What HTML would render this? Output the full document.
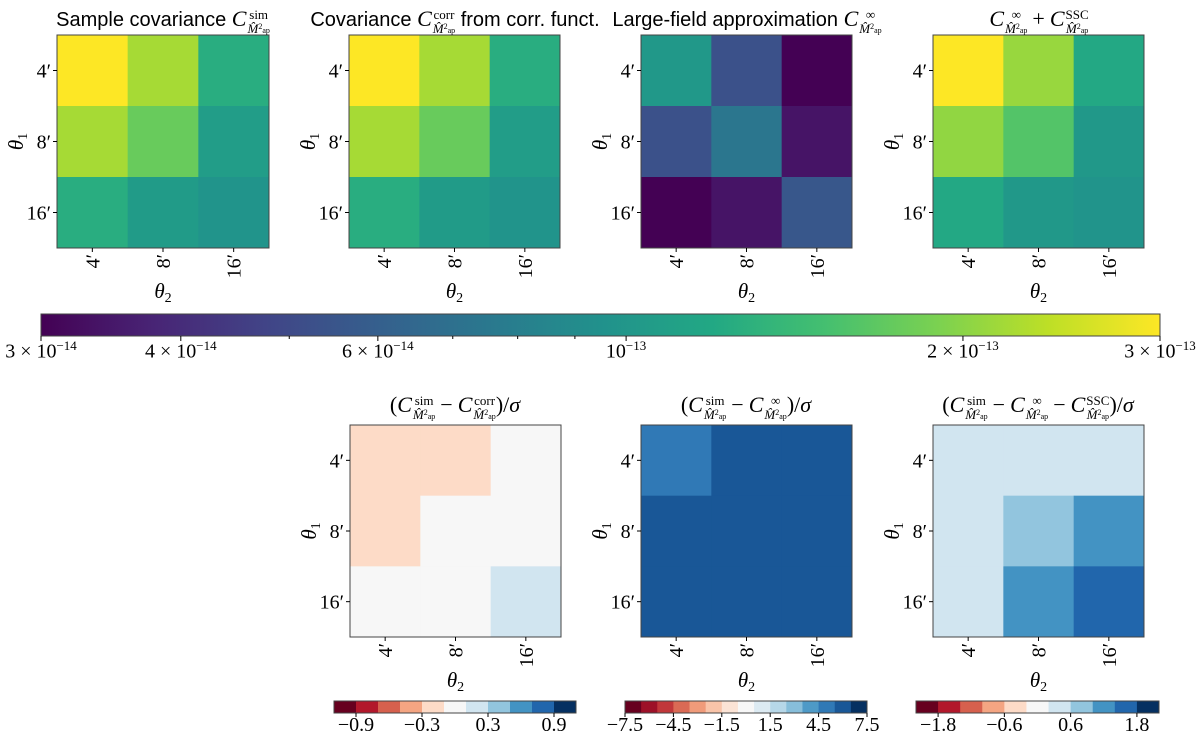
<!DOCTYPE html>
<html><head><meta charset="utf-8">
<style>
body{margin:0;background:#fff;width:1200px;height:734px;overflow:hidden;position:relative;font-family:"Liberation Serif",serif;}
svg{position:absolute;left:0;top:0}
.title{position:absolute;text-align:center;font-size:20px;white-space:nowrap;color:#000;line-height:26px}
.sans{font-family:"Liberation Sans",sans-serif;}
.m{font-family:"Liberation Serif",serif;font-style:italic;font-size:22px}
.ss{display:inline-block;vertical-align:-7px;font-family:"Liberation Serif",serif;font-size:13px;line-height:12px;text-align:center;margin-left:1px}
.ss>span{display:block}
.ss .p{font-size:8px;vertical-align:4px}
.ss .a{font-size:8px}
.cbl{position:absolute;font-size:20px;white-space:nowrap;transform:translateX(-50%);color:#000}
.cbl sup{font-size:13px}
</style></head>
<body>
<svg id="chart" width="1200" height="734"></svg>

<div class="title" style="left:37px;top:6px;width:252px"><span class="sans">Sample covariance </span><span class="m">C</span><span class="ss"><span>sim</span><span><i>M̂</i><span class="p">2</span><span class="a">ap</span></span></span></div>
<div class="title" style="left:290px;top:6px;width:330px"><span class="sans">Covariance </span><span class="m">C</span><span class="ss"><span>corr</span><span><i>M̂</i><span class="p">2</span><span class="a">ap</span></span></span><span class="sans"> from corr. funct.</span></div>
<div class="title" style="left:590px;top:6px;width:314px"><span class="sans">Large-field approximation </span><span class="m">C</span><span class="ss"><span>∞</span><span><i>M̂</i><span class="p">2</span><span class="a">ap</span></span></span></div>
<div class="title" style="left:933px;top:6px;width:212px"><span class="m">C</span><span class="ss"><span>∞</span><span><i>M̂</i><span class="p">2</span><span class="a">ap</span></span></span> <span class="m" style="font-style:normal">+</span> <span class="m">C</span><span class="ss"><span>SSC</span><span><i>M̂</i><span class="p">2</span><span class="a">ap</span></span></span></div>

<div class="title" style="left:330px;top:392px;width:250px"><span class="m" style="font-style:normal">(</span><span class="m">C</span><span class="ss"><span>sim</span><span><i>M̂</i><span class="p">2</span><span class="a">ap</span></span></span> <span class="m" style="font-style:normal">−</span> <span class="m">C</span><span class="ss"><span>corr</span><span><i>M̂</i><span class="p">2</span><span class="a">ap</span></span></span><span class="m" style="font-style:normal">)/</span><span class="m">σ</span></div>
<div class="title" style="left:620px;top:392px;width:252px"><span class="m" style="font-style:normal">(</span><span class="m">C</span><span class="ss"><span>sim</span><span><i>M̂</i><span class="p">2</span><span class="a">ap</span></span></span> <span class="m" style="font-style:normal">−</span> <span class="m">C</span><span class="ss"><span>∞</span><span><i>M̂</i><span class="p">2</span><span class="a">ap</span></span></span><span class="m" style="font-style:normal">)/</span><span class="m">σ</span></div>
<div class="title" style="left:880px;top:392px;width:316px"><span class="m" style="font-style:normal">(</span><span class="m">C</span><span class="ss"><span>sim</span><span><i>M̂</i><span class="p">2</span><span class="a">ap</span></span></span> <span class="m" style="font-style:normal">−</span> <span class="m">C</span><span class="ss"><span>∞</span><span><i>M̂</i><span class="p">2</span><span class="a">ap</span></span></span> <span class="m" style="font-style:normal">−</span> <span class="m">C</span><span class="ss"><span>SSC</span><span><i>M̂</i><span class="p">2</span><span class="a">ap</span></span></span><span class="m" style="font-style:normal">)/</span><span class="m">σ</span></div>

<div id="labels"></div>

<script>
const scales = ["4′","8′","16′"];
const simVals  = [[3.0e-13,2.2e-13,1.25e-13],[2.2e-13,1.75e-13,1.07e-13],[1.25e-13,1.05e-13,0.98e-13]];
const corrVals = [[3.0e-13,2.2e-13,1.25e-13],[2.2e-13,1.75e-13,1.07e-13],[1.25e-13,1.05e-13,0.98e-13]];
const infVals  = [[1.02e-13,5.3e-14,3.0e-14],[5.3e-14,7.4e-14,3.4e-14],[3.0e-14,3.4e-14,5.6e-14]];
const sscVals  = [[3.0e-13,2.1e-13,1.2e-13],[2.05e-13,1.6e-13,1.02e-13],[1.2e-13,1.02e-13,0.98e-13]];
const diffCorr = [[-0.2,-0.2,0.0],[-0.2,0.0,0.0],[0.0,0.0,0.2]];
const diffInf  = [[5.0,6.0,6.0],[6.0,6.0,6.0],[6.0,6.0,6.0]];
const diffSsc  = [[0.4,0.4,0.4],[0.4,0.8,1.2],[0.4,1.2,1.6]];
const mainTicks = [3e-14,4e-14,6e-14,1e-13,2e-13,3e-13];
const mainTickLabels = ["3 × 10<sup>−14</sup>","4 × 10<sup>−14</sup>","6 × 10<sup>−14</sup>","10<sup>−13</sup>","2 × 10<sup>−13</sup>","3 × 10<sup>−13</sup>"];
const mainMinor = [5e-14,7e-14,8e-14,9e-14];
const cbCorrTicks = [-0.9,-0.3,0.3,0.9];
const cbInfTicks = [-7.5,-4.5,-1.5,1.5,4.5,7.5];
const cbSscTicks = [-1.8,-0.6,0.6,1.8];

const NS="http://www.w3.org/2000/svg";
const svg=document.getElementById('chart');
const labels=document.getElementById('labels');
function mk(tag,attrs,parent){const e=document.createElementNS(NS,tag);for(const k in attrs)e.setAttribute(k,attrs[k]);(parent||svg).appendChild(e);return e;}
function hex(h){return [parseInt(h.slice(0,2),16),parseInt(h.slice(2,4),16),parseInt(h.slice(4,6),16)];}
function interp(stops,t){t=Math.max(0,Math.min(1,t));const n=stops.length-1;const i=Math.min(n-1,Math.floor(t*n));const f=t*n-i;const a=hex(stops[i]),b=hex(stops[i+1]);return 'rgb('+a.map((v,k)=>Math.round(v+(b[k]-v)*f)).join(',')+')';}
const VIR=["440154","482475","414487","355f8d","2a788e","21918c","22a884","44bf70","7ad151","bddf26","fde725"];
const RDBU=["67001f","b2182b","d6604d","f4a582","fddbc7","f7f7f7","d1e5f0","92c5de","4393c3","2166ac","053061"];
const vmin=3e-14,vmax=3e-13;
function logFrac(v){return Math.log10(v/vmin)/Math.log10(vmax/vmin);}
function viridis(v){return interp(VIR,logFrac(v));}
function binColor(b,n){return interp(RDBU,b/(n-1));}
function discrete(lo,hi,n){return v=>{let b=Math.floor((v-lo)/(hi-lo)*n);b=Math.max(0,Math.min(n-1,b));return binColor(b,n);};}

function addLabel(html,x,y,name,extra){const d=document.createElement('div');d.className='cbl';d.style.left=x+'px';d.style.top=y+'px';if(extra)d.style.cssText+=extra;d.innerHTML=html;


labels.appendChild(d);return d;}

function heat(x0,y0,w,h,vals,cf,name){
  const g=mk('g',{});
  
  
  const cw=w/3,ch=h/3;
  for(let r=0;r<3;r++)for(let c=0;c<3;c++){
    const rc=mk('rect',{x:x0+c*cw,y:y0+r*ch,width:cw+0.5,height:ch+0.5,fill:cf(vals[r][c])},g);
    
    
  }
  const fr=mk('rect',{x:x0,y:y0,width:w,height:h,fill:'none',stroke:'#444','stroke-width':1},g);
  
  
  for(let i=0;i<3;i++){
    const cy=y0+(i+0.5)*ch, cx=x0+(i+0.5)*cw;
    mk('line',{x1:x0-4,x2:x0,y1:cy,y2:cy,stroke:'#000'},g);
    mk('line',{x1:cx,x2:cx,y1:y0+h,y2:y0+h+4,stroke:'#000'},g);
    const ty=mk('text',{x:x0-6,y:cy+7,'text-anchor':'end','font-size':20,'font-family':'Liberation Serif'},g);ty.textContent=scales[i];
    
    
    const tx=mk('text',{x:0,y:0,'text-anchor':'end','font-size':20,'font-family':'Liberation Serif',transform:'translate('+(cx+7)+','+(y0+h+6)+') rotate(-90)'},g);tx.textContent=scales[i];
    
    
  }
  const yl=mk('text',{x:0,y:0,'text-anchor':'middle','font-size':21,'font-family':'Liberation Serif','font-style':'italic',transform:'translate('+(x0-34)+','+(y0+h/2)+') rotate(-90)'},g);
  yl.innerHTML='θ<tspan font-style="normal" font-size="14" dy="4">1</tspan>';
  
  
  const xl=mk('text',{x:x0+w/2,y:y0+h+50,'text-anchor':'middle','font-size':21,'font-family':'Liberation Serif','font-style':'italic'},g);
  xl.innerHTML='θ<tspan font-style="normal" font-size="14" dy="4">2</tspan>';
  
  
}

heat(57,35,212,213,simVals,viridis,'heatmap-sample-covariance');
heat(349,35,211,213,corrVals,viridis,'heatmap-corr-covariance');
heat(641,35,211,213,infVals,viridis,'heatmap-large-field');
heat(933,35,211,213,sscVals,viridis,'heatmap-inf-plus-ssc');

const fCorr=discrete(-1.1,1.1,11), fInf=discrete(-7.5,7.5,15), fSsc=discrete(-2.2,2.2,11);
heat(350,425,211,212,diffCorr,fCorr,'heatmap-diff-corr');
heat(641,425,211,212,diffInf,fInf,'heatmap-diff-inf');
heat(933,425,211,212,diffSsc,fSsc,'heatmap-diff-ssc');

// main colorbar
const cbx=41,cbw=1119,cby=314,cbh=22;
const defs=mk('defs',{});
const lg=mk('linearGradient',{id:'vg',x1:0,x2:1,y1:0,y2:0},defs);
for(let i=0;i<=20;i++){mk('stop',{offset:i/20,'stop-color':interp(VIR,i/20)},lg);}
const cbr=mk('rect',{x:cbx,y:cby,width:cbw,height:cbh,fill:'url(#vg)',stroke:'#444','stroke-width':1});


function cbX(v){return cbx+logFrac(v)*cbw;}
mainTicks.forEach((v,i)=>{const x=cbX(v);mk('line',{x1:x,x2:x,y1:cby+cbh,y2:cby+cbh+5,stroke:'#000'});
  addLabel(mainTickLabels[i],x,338,'colorbar-tick-label');});
mainMinor.forEach(v=>{const x=cbX(v);mk('line',{x1:x,x2:x,y1:cby+cbh,y2:cby+cbh+3,stroke:'#000'});});

function smallBar(x0,w,lo,hi,n,ticks,name){
  const y0=701,h=12;
  const g=mk('g',{});
  
  
  for(let b=0;b<n;b++){mk('rect',{x:x0+b*w/n,y:y0,width:w/n+0.5,height:h,fill:binColor(b,n)},g);}
  mk('rect',{x:x0,y:y0,width:w,height:h,fill:'none',stroke:'#444'},g);
  ticks.forEach(t=>{const x=x0+(t-lo)/(hi-lo)*w;mk('line',{x1:x,x2:x,y1:y0+h,y2:y0+h+4,stroke:'#000'},g);
    addLabel(String(t).replace('-','−'),x,714,'colorbar-tick-label','font-size:20px;line-height:22px');});
}
smallBar(334,242,-1.1,1.1,11,cbCorrTicks,'colorbar-diff-corr');
smallBar(625,242,-7.5,7.5,15,cbInfTicks,'colorbar-diff-inf');
smallBar(916,243,-2.2,2.2,11,cbSscTicks,'colorbar-diff-ssc');
</script>
</body></html>
